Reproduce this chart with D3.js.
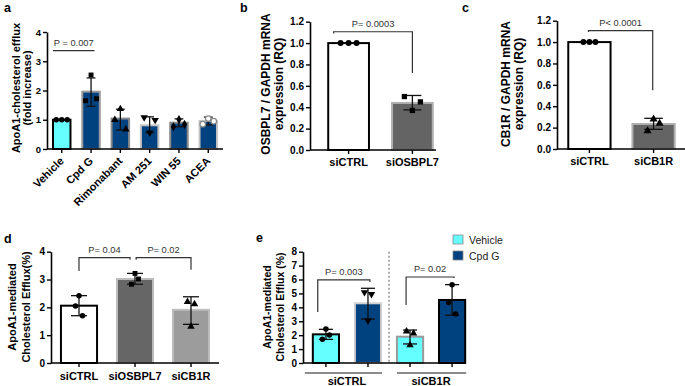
<!DOCTYPE html>
<html>
<head>
<meta charset="utf-8">
<script src="https://cdn.jsdelivr.net/npm/d3@7"></script>
<style>
  body { margin: 0; background: #fff; }
  text { font-family: "Liberation Sans", Arial, sans-serif; }
</style>
</head>
<body>
<script>
// ---------- data ----------
// a: ApoA1-cholesterol efflux (fold increase)
const aCats = ["Vehicle", "Cpd G", "Rimonabant", "AM 251", "WIN 55", "ACEA"];
const aMeans = [1.0, 1.96, 1.04, 0.81, 0.9, 0.96];
const aLow = [1.0, 1.46, 0.65, 0.56, 0.76, 0.82];
const aHigh = [1.0, 2.43, 1.36, 1.1, 1.03, 1.09];
const aPoints = [[1, 1, 1], [1.65, 2.53, 1.72], [1.0, 1.37, 0.67], [1.08, 0.56, 0.99], [0.76, 1.01, 0.84], [0.85, 1.04, 0.95]];
const aTicks = [0, 1, 2, 3, 4];

// b: OSBPL7 / GAPDH mRNA
const bCats = ["siCTRL", "siOSBPL7"];
const bMeans = [1.0, 0.44];
const bLow = [1.0, 0.375];
const bHigh = [1.0, 0.51];
const bPoints = [[1, 1, 1], [0.5, 0.37, 0.45]];
const rqTicks = [0, 0.2, 0.4, 0.6, 0.8, 1.0, 1.2];

// c: CB1R / GAPDH mRNA
const cCats = ["siCTRL", "siCB1R"];
const cMeans = [1.0, 0.234];
const cLow = [1.0, 0.184];
const cHigh = [1.0, 0.287];
const cPoints = [[1, 1, 1], [0.17, 0.28, 0.24]];

// d: ApoA1-mediated cholesterol efflux (%)
const dCats = ["siCTRL", "siOSBPL7", "siCB1R"];
const dMeans = [2.06, 3.02, 1.91];
const dLow = [1.7, 2.83, 1.39];
const dHigh = [2.42, 3.22, 2.38];
const dPoints = [[2.05, 2.42, 1.7], [2.83, 3.22, 3.02], [2.2, 1.31, 2.12]];
const dTicks = [0, 1, 2, 3, 4];

// e: grouped, siRNA x treatment
const eGroups = ["siCTRL", "siCB1R"];
const eTreat = ["Vehicle", "Cpd G"];
const eMeans = [2.06, 4.29, 1.89, 4.53];
const eLow = [1.7, 3.16, 1.37, 3.43];
const eHigh = [2.42, 5.37, 2.37, 5.63];
const ePoints = [[1.7, 2.44, 2.01], [5.08, 3.04, 4.94], [2.28, 1.29, 2.13], [4.34, 5.63, 3.52]];
const eTicks = [0, 1, 2, 3, 4, 5, 6, 7, 8];

// significance annotations: [left cat, right cat, top, left leg end, right leg end, label]
const aSig = [["Vehicle", "Cpd G", 3.36, 3.36, 3.36, "P = 0.007"]];
const bSig = [["siCTRL", "siOSBPL7", 1.106, 1.09, 0.72, "P= 0.0003"]];
const cSig = [["siCTRL", "siCB1R", 1.107, 1.095, 0.55, "P< 0.0001"]];
const dSig = [["siCTRL", "siOSBPL7", 3.79, 3.31, 3.71, "P= 0.04"],
              ["siOSBPL7", "siCB1R", 3.79, 3.71, 3.35, "P= 0.02"]];
const eSig = [["siCTRL|Vehicle", "siCTRL|Cpd G", 5.97, 3.67, 5.82, "P= 0.003"],
              ["siCB1R|Vehicle", "siCB1R|Cpd G", 6.18, 4.17, 6.11, "P= 0.02"]];

// ---------- drawing ----------
const CYAN = "#66ffff", NAVY = "#00427f";
const svg = d3.select("body").append("svg").attr("width", 685).attr("height", 386);

const tri = d3.symbol().type(d3.symbolTriangle);
function shapePath(kind, size) {
  if (kind === "circle" || kind === "open") return d3.symbol().type(d3.symbolCircle).size(size)();
  if (kind === "square") return d3.symbol().type(d3.symbolSquare).size(size)();
  if (kind === "diamond") return d3.symbol().type(d3.symbolDiamond).size(size)();
  return tri.size(size)();
}

function drawPanel(p) {
  const g = svg.append("g");
  const x = d3.scaleBand().domain(p.cats).range(p.xRange).paddingInner(p.pi).paddingOuter(p.po);
  const y = d3.scaleLinear().domain(p.yDomain).range(p.yRange);
  const bw = x.bandwidth();
  const cx = d => x(d) + bw / 2;

  g.selectAll("rect.bar").data(p.cats).join("rect")
    .attr("x", d => x(d) + 1)
    .attr("width", bw - 2)
    .attr("y", (d, i) => y(p.means[i]))
    .attr("height", (d, i) => y(0) - y(p.means[i]))
    .attr("fill", (d, i) => p.fills[i])
    .attr("stroke", (d, i) => p.strokes[i])
    .attr("stroke-width", 2);

  // error bars
  const cap = bw * p.capFrac / 2;
  p.cats.forEach((c, i) => {
    if (p.lows[i] === p.highs[i]) return;
    const eb = g.append("g").attr("stroke", "#111").attr("stroke-width", 1.3);
    eb.append("line").attr("x1", cx(c)).attr("x2", cx(c)).attr("y1", y(p.lows[i])).attr("y2", y(p.highs[i]));
    [p.lows[i], p.highs[i]].forEach(v =>
      eb.append("line").attr("x1", cx(c) - cap).attr("x2", cx(c) + cap).attr("y1", y(v)).attr("y2", y(v)));
  });

  // replicate points
  p.cats.forEach((c, i) => {
    p.points[i].forEach((v, j) => {
      const kind = p.shapes[i];
      const rot = kind === "tridown" ? " rotate(180)" : "";
      g.append("path")
        .attr("d", shapePath(kind, p.symSize))
        .attr("transform", `translate(${cx(c) + (j - 1) * p.spread},${y(v)})${rot}`)
        .attr("fill", kind === "open" ? "#fff" : "#000")
        .attr("stroke", kind === "open" ? "#888" : "none")
        .attr("stroke-width", 1.2);
    });
  });

  // y axis
  const ya = g.append("g").attr("transform", `translate(${p.xRange[0]},0)`)
    .call(d3.axisLeft(y).tickValues(p.ticks).tickFormat(p.fmt).tickSize(4).tickSizeOuter(0).tickPadding(2));
  ya.select(".domain").attr("stroke-width", 1.6);
  ya.selectAll(".tick line").attr("stroke-width", 1.4);
  ya.selectAll("text").attr("font-size", p.tickFont).attr("font-weight", "bold").attr("fill", "#000");

  // x axis
  const xa = g.append("g").attr("transform", `translate(0,${y(0)})`)
    .call(d3.axisBottom(x).tickSize(4).tickSizeOuter(0).tickPadding(p.xPad)
      .tickFormat(p.xLabels ? (d => d) : () => ""));
  xa.select(".domain").attr("d", `M${p.xRange[0]},0H${p.axisEnd}`).attr("stroke-width", 1.6);
  xa.selectAll(".tick line").attr("stroke-width", 1.4);
  xa.selectAll("text").attr("font-size", 11).attr("font-weight", "bold").attr("fill", "#000");
  if (p.rotate) {
    xa.selectAll("text").attr("text-anchor", "end").attr("dy", "0.35em")
      .attr("transform", "translate(0,10) rotate(-45)").attr("y", 0).attr("x", 0);
  }

  // significance brackets
  p.sig.forEach(s => {
    const x1 = x(s[0]) + bw * s[6], x2 = x(s[1]) + bw * s[7];
    g.append("path")
      .attr("d", `M${x1},${y(s[3])}V${y(s[2])}H${x2}V${y(s[4])}`)
      .attr("fill", "none").attr("stroke", "#333").attr("stroke-width", 1.2);
    g.append("text").attr("x", (x1 + x2) / 2).attr("y", y(s[2]) - 5)
      .attr("text-anchor", "middle").attr("font-size", 9.3).attr("fill", "#333").text(s[5]);
  });

  // y label (two lines)
  p.ylab.forEach((t, k) => {
    g.append("text").attr("transform", `translate(${p.ylabX[k]},${p.ylabY}) rotate(-90)`)
      .attr("text-anchor", "middle").attr("font-size", p.ylabFont).attr("font-weight", "bold").text(t);
  });

  // panel letter
  svg.append("text").attr("x", p.letterPos[0]).attr("y", p.letterPos[1])
    .attr("font-size", 12.5).attr("font-weight", "bold").text(p.letter);
  return { x, y, g };
}

// attach bracket x fractions (where the legs sit inside each bar)
const withFrac = (arr, fr) => arr.map((s, i) => s.concat(fr[i]));

drawPanel({
  cats: aCats, means: aMeans, lows: aLow, highs: aHigh, points: aPoints,
  shapes: ["circle", "square", "triangle", "tridown", "diamond", "open"],
  fills: [CYAN, NAVY, NAVY, NAVY, NAVY, NAVY],
  strokes: ["#000", "#9a9a9a", "#8a8a8a", "#c4c4c4", "#8a8a8a", "#c4c4c4"],
  xRange: [47, 223], axisEnd: 223, pi: 0.335, po: 0.17,
  yDomain: [0, 4], yRange: [149, 32], ticks: aTicks, fmt: d3.format("d"),
  capFrac: 0.45, spread: 5.5, symSize: 24, tickFont: 9.5,
  xLabels: true, rotate: true, xPad: 4,
  sig: withFrac(aSig, [[0.05, 0.68]]).map(s => s.flat()),
  ylab: ["ApoA1-cholesterol efflux", "(fold increase)"], ylabX: [20, 31], ylabY: 88, ylabFont: 11,
  letter: "a", letterPos: [4, 12]
});

drawPanel({
  cats: bCats, means: bMeans, lows: bLow, highs: bHigh, points: bPoints,
  shapes: ["circle", "square"],
  fills: ["#fff", "#646464"], strokes: ["#000", "#b0b0b0"],
  xRange: [310, 451], axisEnd: 436, pi: 0.33, po: 0.27,
  yDomain: [0, 1.2], yRange: [150, 21.7], ticks: rqTicks, fmt: d3.format(".1f"),
  capFrac: 0.42, spread: 8, symSize: 28, tickFont: 10,
  xLabels: true, rotate: false, xPad: 4,
  sig: withFrac(bSig, [[0.15, 0.5]]).map(s => s.flat()),
  ylab: ["OSBPL7 / GAPDH mRNA", "expression (RQ)"], ylabX: [270, 283], ylabY: 84, ylabFont: 12,
  letter: "b", letterPos: [240, 12]
});

drawPanel({
  cats: cCats, means: cMeans, lows: cLow, highs: cHigh, points: cPoints,
  shapes: ["circle", "triangle"],
  fills: ["#fff", "#646464"], strokes: ["#000", "#b0b0b0"],
  xRange: [557, 686], axisEnd: 685, pi: 0.31, po: 0.16,
  yDomain: [0, 1.2], yRange: [149, 20.7], ticks: rqTicks, fmt: d3.format(".1f"),
  capFrac: 0.42, spread: 6, symSize: 28, tickFont: 10,
  xLabels: true, rotate: false, xPad: 4,
  sig: withFrac(cSig, [[0.48, 0.48]]).map(s => s.flat()),
  ylab: ["CB1R / GAPDH mRNA", "expression (RQ)"], ylabX: [510, 523], ylabY: 84, ylabFont: 12,
  letter: "c", letterPos: [462, 12]
});

drawPanel({
  cats: dCats, means: dMeans, lows: dLow, highs: dHigh, points: dPoints,
  shapes: ["circle", "square", "triangle"],
  fills: ["#fff", "#666666", "#9c9c9c"], strokes: ["#000", "#bdbdbd", "#bdbdbd"],
  xRange: [51, 219], axisEnd: 219, pi: 0.32, po: 0.16,
  yDomain: [0, 4], yRange: [363, 251.7], ticks: dTicks, fmt: d3.format("d"),
  capFrac: 0.42, spread: 3.5, symSize: 24, tickFont: 10,
  xLabels: true, rotate: false, xPad: 5,
  sig: withFrac(dSig, [[0.5, 0.37], [0.53, 0.5]]).map(s => s.flat()),
  ylab: ["ApoA1-mediated", "Cholesterol Efflux(%)"], ylabX: [16, 30], ylabY: 307, ylabFont: 11,
  letter: "d", letterPos: [4, 243]
});

const eCats = eGroups.flatMap(g => eTreat.map(t => g + "|" + t));
const ePanel = drawPanel({
  cats: eCats, means: eMeans, lows: eLow, highs: eHigh, points: ePoints,
  shapes: ["circle", "tridown", "triangle", "circle"],
  fills: [CYAN, NAVY, CYAN, NAVY], strokes: ["#000", "#cfcfcf", "#9a9a9a", "#000"],
  xRange: [303, 475], axisEnd: 466, pi: 0.33, po: 0.21,
  yDomain: [0, 8], yRange: [363, 251.7], ticks: eTicks, fmt: d3.format("d"),
  capFrac: 0.5, spread: 3.5, symSize: 24, tickFont: 10,
  xLabels: false, rotate: false, xPad: 4,
  sig: withFrac(eSig, [[0.21, 0.57], [0.36, 0.57]]).map(s => s.flat()),
  ylab: ["ApoA1-mediated", "Cholesterol Efflux (%)"], ylabX: [271, 284], ylabY: 307, ylabFont: 10.5,
  letter: "e", letterPos: [256, 242]
});

// e: dashed separator, group underlines and labels, legend
{
  const { x, y, g } = ePanel;
  const bw = x.bandwidth();
  const sepX = (x(eCats[1]) + bw + x(eCats[2])) / 2;
  g.append("line").attr("x1", sepX).attr("x2", sepX).attr("y1", y(8)).attr("y2", y(0))
    .attr("stroke", "#777").attr("stroke-width", 1.2).attr("stroke-dasharray", "2,2");
  eGroups.forEach((grp, i) => {
    const a = x(grp + "|" + eTreat[0]), b = x(grp + "|" + eTreat[1]) + bw;
    const x1 = i === 0 ? a - 7 : a + 1, x2 = b;
    g.append("line").attr("x1", x1).attr("x2", x2).attr("y1", 373).attr("y2", 373)
      .attr("stroke", "#666").attr("stroke-width", 1.5);
    g.append("text").attr("x", (a + b) / 2).attr("y", 385).attr("text-anchor", "middle")
      .attr("font-size", 11).attr("font-weight", "bold").text(grp);
  });
  const leg = svg.append("g").attr("transform", "translate(453,235)");
  eTreat.forEach((t, i) => {
    leg.append("rect").attr("x", 0).attr("y", i * 16).attr("width", 10).attr("height", 9)
      .attr("fill", i === 0 ? CYAN : NAVY).attr("stroke", "#888").attr("stroke-width", 0.8);
    leg.append("text").attr("x", 16).attr("y", i * 16 + 8.5).attr("font-size", 10.5).attr("fill", "#222").text(t);
  });
}
</script>
</body>
</html>
